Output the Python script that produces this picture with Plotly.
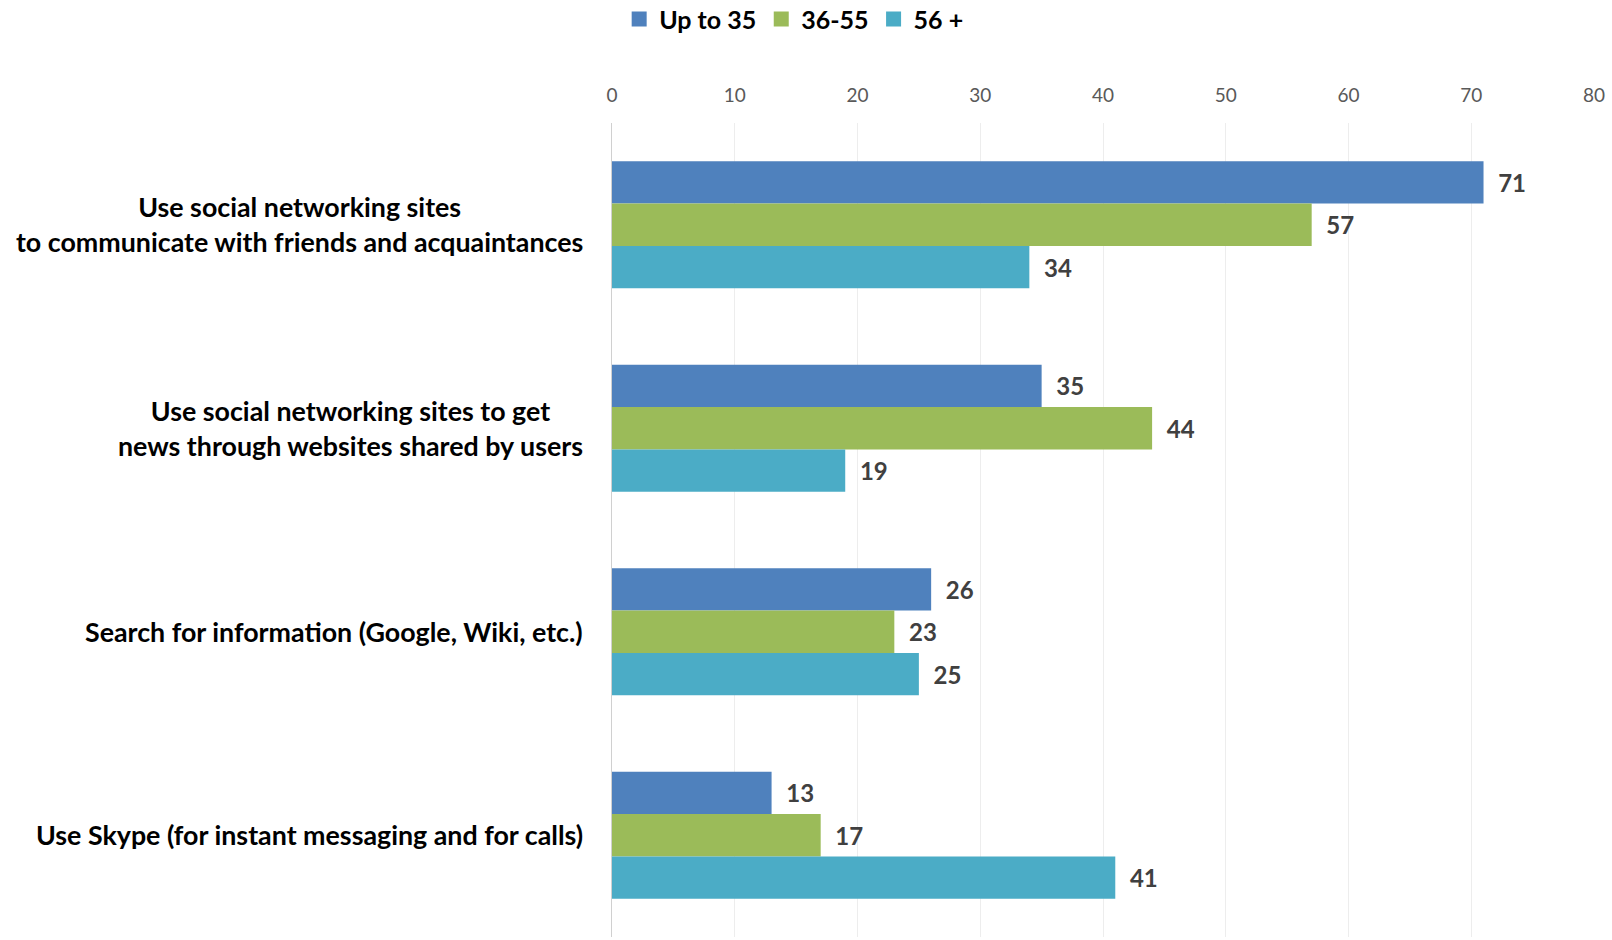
import plotly.graph_objects as go

categories = [
    "Use social networking sites<br>to communicate with friends and acquaintances",
    "Use social networking sites to get<br>news through websites shared by users",
    "Search for information (Google, Wiki, etc.)",
    "Use Skype (for instant messaging and for calls)",
]
series_names = ["Up to 35", "36-55", "56 +"]
up_to_35 = [71, 35, 26, 13]
age_36_55 = [57, 44, 23, 17]
age_56_plus = [34, 19, 25, 41]
colors = ["#4F81BD", "#9BBB59", "#4BACC6"]
x_ticks = [0, 10, 20, 30, 40, 50, 60, 70, 80]

FONT = "Lato"

fig = go.Figure()
for name, vals, col in zip(series_names, [up_to_35, age_36_55, age_56_plus], colors):
    fig.add_trace(go.Bar(
        y=categories, x=vals, name=name, orientation="h",
        marker=dict(color=col, line=dict(width=0)),
        text=["\u00a0\u00a0" + str(v) for v in vals],
        textposition="outside",
        textfont=dict(family=FONT, size=24, color="#404040", weight="bold"),
        cliponaxis=False, showlegend=False, legendgroup=name,
    ))
# legend entries with larger square swatches
for name, col in zip(series_names, colors):
    fig.add_trace(go.Scatter(
        x=[None], y=[None], mode="markers", name=name, legendgroup=name,
        marker=dict(symbol="square", size=15, color=col),
        hoverinfo="skip",
    ))

# category labels as centered multi-line annotations
for cat in categories:
    fig.add_annotation(
        x=-0.0272, xref="paper", y=cat, yref="y",
        text=cat, showarrow=False, xanchor="right", yanchor="middle",
        font=dict(family=FONT, size=26.8, color="#000000", weight="bold"),
        align="center",
    )

fig.update_layout(
    width=1612, height=940,
    margin=dict(l=612, r=18, t=123, b=3, autoexpand=False),
    paper_bgcolor="white", plot_bgcolor="white",
    barmode="group", bargap=0.375, bargroupgap=0,
    showlegend=True,
    legend=dict(orientation="h", x=0.185, xanchor="center",
                yref="container", y=0.9795, yanchor="middle",
                font=dict(family=FONT, size=25, color="#000000", weight="bold"),
                itemwidth=30, tracegroupgap=0, itemsizing="trace"),
    xaxis=dict(side="top", range=[0, 80], tickvals=x_ticks, showgrid=True,
               gridcolor="#EDEDED", gridwidth=1, zeroline=False,
               ticks="outside", ticklen=12, tickcolor="rgba(0,0,0,0)",
               tickfont=dict(family=FONT, size=19, color="#595959"),
               ticklabeloverflow="allow",
               showline=False, fixedrange=True, automargin=False),
    yaxis=dict(autorange="reversed", showticklabels=False, showgrid=False,
               showline=True, linecolor="#D0D0D0", linewidth=1, ticks="",
               categoryorder="array", categoryarray=categories),
    font=dict(family=FONT),
)

fig.write_html(
    "out.html",
    config={"displayModeBar": False},
    post_script="document.body.style.margin='0';document.body.style.overflow='hidden';",
)
